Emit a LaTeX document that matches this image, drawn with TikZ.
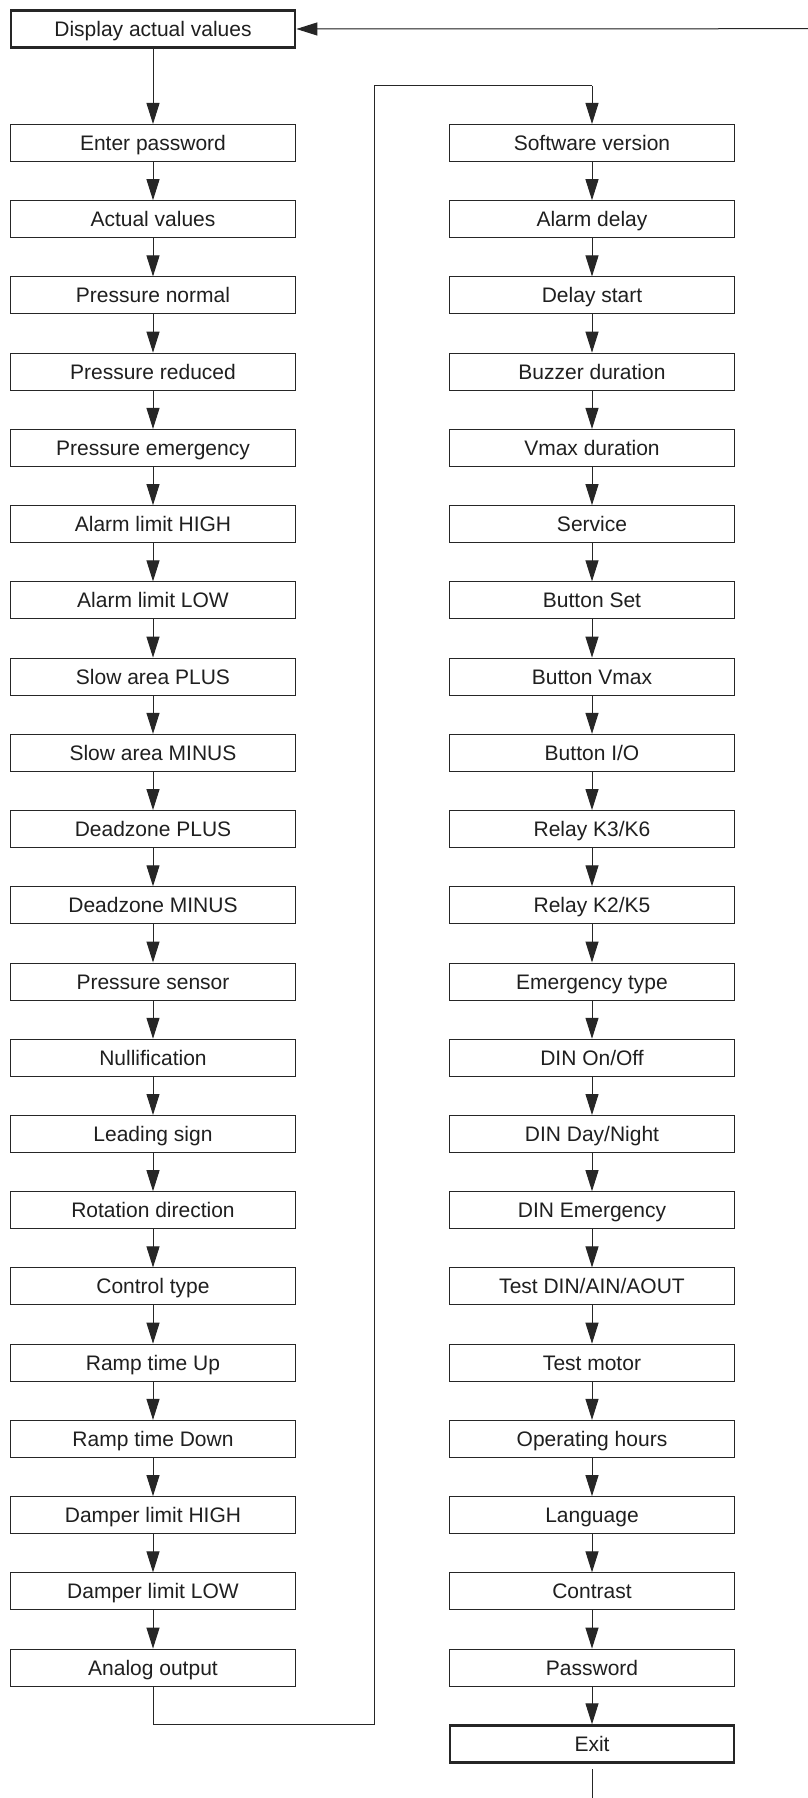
\documentclass[tikz,border=0pt]{standalone}
\usepackage{fontspec}
\setmainfont{Liberation Sans}
\usetikzlibrary{arrows.meta}
\begin{document}
\begin{tikzpicture}[x=1pt,y=-1pt,
  box/.style={draw=black!85, line width=1pt, minimum width=285pt, minimum height=37pt,
    inner sep=0pt, text height=15pt, text depth=0pt,
    font=\fontsize{21}{25}\selectfont, text=black!88},
  boldbox/.style={box, line width=2.7pt, minimum width=284pt, minimum height=36.7pt},
  conn/.style={line width=1pt, draw=black!85},
  arr/.style={conn, -{Triangle[length=21pt,width=13pt]}, fill=black!85}]
\useasboundingbox (0,0) rectangle (808,1798);
\fill[white] (0,0) rectangle (808,1798);

\node[boldbox] (d) at (153,29) {Display actual values};

\foreach \t [count=\i from 0] in {Enter password,Actual values,Pressure normal,Pressure reduced,Pressure emergency,Alarm limit HIGH,Alarm limit LOW,Slow area PLUS,Slow area MINUS,Deadzone PLUS,Deadzone MINUS,Pressure sensor,Nullification,Leading sign,Rotation direction,Control type,Ramp time Up,Ramp time Down,Damper limit HIGH,Damper limit LOW,Analog output}{
  \pgfmathsetmacro{\cy}{143+76.23*\i}
  \node[box] (l\i) at (153,\cy) {\t};
}
\foreach \t [count=\i from 0] in {Software version,Alarm delay,Delay start,Buzzer duration,Vmax duration,Service,Button Set,Button Vmax,Button I/O,Relay K3/K6,Relay K2/K5,Emergency type,DIN On/Off,DIN Day/Night,DIN Emergency,Test DIN/AIN/AOUT,Test motor,Operating hours,Language,Contrast,Password}{
  \pgfmathsetmacro{\cy}{143+76.23*\i}
  \node[box] (r\i) at (592,\cy) {\t};
}
\node[boldbox] (ex) at (592,1744) {Exit};

% connectors
\draw[arr] (d.south) -- (l0.north);
\foreach \i [evaluate=\i as \j using int(\i+1)] in {0,...,19}{
  \draw[arr] (l\i.south) -- (l\j.north);
  \draw[arr] (r\i.south) -- (r\j.north);
}
\draw[arr] (r20.south) -- (ex.north);

\coordinate (b1) at (153,1724.3);
\coordinate (b2) at (374.3,1724.3);
\coordinate (b3) at (374.3,86);
\coordinate (b4) at (592,86);
\draw[conn] (l20.south) -- (b1) -- (b2) -- (b3) -- (b4);
\draw[arr] (b4) -- (r0.north);

\coordinate (fb) at (808,28.7);
\draw[arr] (fb) -- (d.east);

\coordinate (e1) at (592,1769);
\coordinate (e2) at (592,1798);
\draw[conn] (e1) -- (e2);
\end{tikzpicture}
\end{document}
